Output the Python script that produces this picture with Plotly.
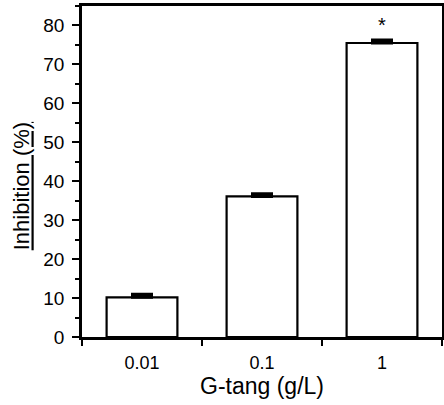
import plotly.graph_objects as go

categories = ["0.01", "0.1", "1"]
inhibition = [10.2, 36.1, 75.5]
errors = [0.8, 0.7, 0.8]
y_ticks = [0, 10, 20, 30, 40, 50, 60, 70, 80]
significance = ["", "", "*"]

fig = go.Figure()
fig.add_trace(go.Bar(
    x=categories, y=inhibition, width=0.59,
    marker=dict(color="white", line=dict(color="black", width=2.2)),
    error_y=dict(type="data", symmetric=False, array=errors,
                 arrayminus=[0] * len(errors), color="black",
                 thickness=3, width=11),
    showlegend=False,
))

for i, (v, e, s) in enumerate(zip(inhibition, errors, significance)):
    if s:
        fig.add_annotation(x=i, y=v + e + 0.6, text=s, showarrow=False,
                           font=dict(size=20, color="black"), yanchor="bottom")

fig.add_annotation(xref="paper", yref="paper", x=-0.167, y=0.455,
                   text="<u>Inhibition (%)</u>", textangle=-90, showarrow=False,
                   font=dict(size=22, color="black"), xanchor="center", yanchor="middle")

fig.update_layout(
    width=444, height=405,
    margin=dict(l=82, r=2, t=6, b=68),
    paper_bgcolor="white", plot_bgcolor="white",
    font=dict(family="Liberation Sans, Arial, sans-serif", color="black"),
)
fig.update_xaxes(
    type="category", range=[-0.5, 2.5], tickson="boundaries",
    ticks="outside", ticklen=6, tickwidth=2, tickcolor="black",
    showline=True, linecolor="black", linewidth=2.5, mirror=True,
    tickfont=dict(size=18), showgrid=False, automargin=False,
    ticklabelstandoff=8,
    title=dict(text="G-tang (g/L)", font=dict(size=23), standoff=6),
)
fig.update_yaxes(
    range=[0, 85], tickvals=y_ticks, ticks="outside", ticklen=7, tickwidth=2,
    tickcolor="black", showline=True, linecolor="black", linewidth=2.5,
    mirror=True, showgrid=False, zeroline=False, tickfont=dict(size=19),
    automargin=False, ticklabelstandoff=4,
    minor=dict(dtick=5, ticks="outside", ticklen=4, tickwidth=1.5, tickcolor="black"),
)
fig.write_html("out.html", config={"displayModeBar": False},
               post_script="document.body.style.margin='0';document.body.style.overflow='hidden';")
